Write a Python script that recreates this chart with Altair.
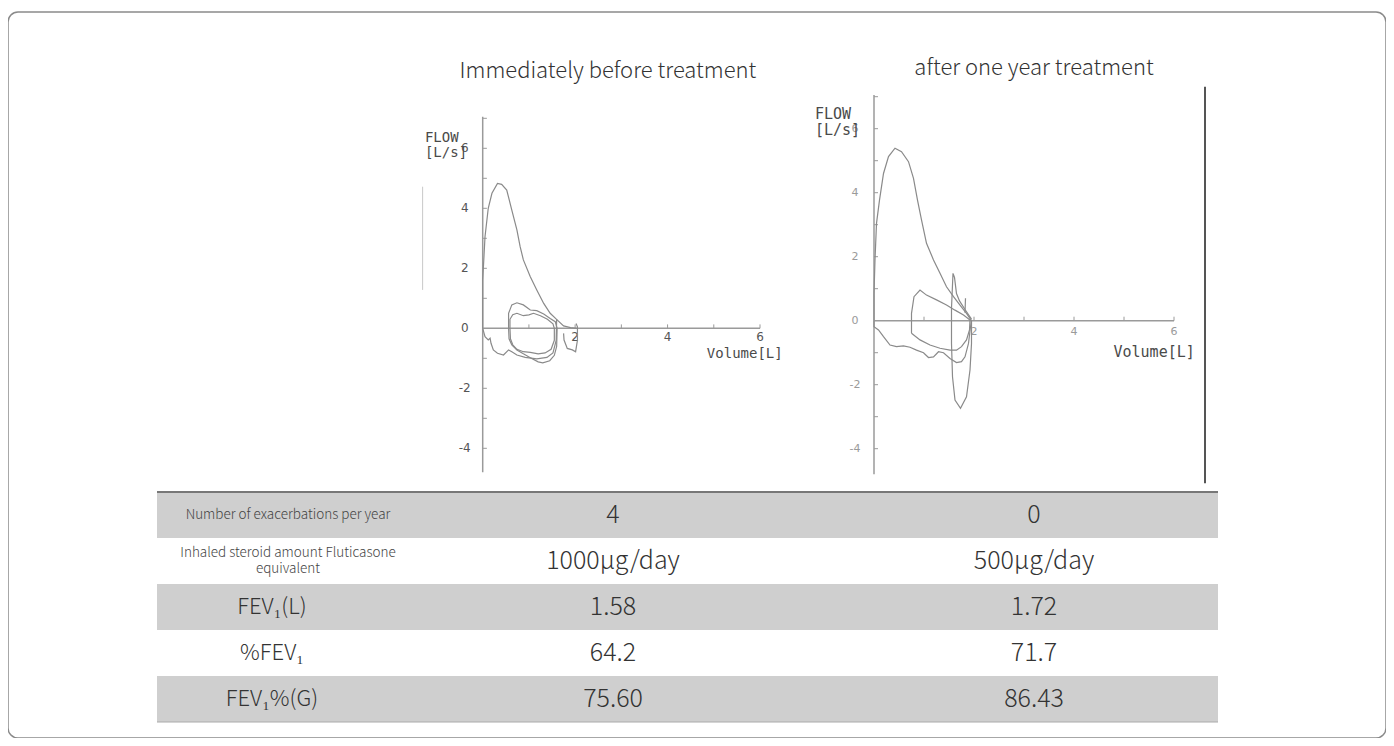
import altair as alt
import pandas as pd

# ---------------- data ----------------
titles = ["Immediately before treatment", "after one year treatment"]

# Before treatment (left panel) - flow (L/s) vs volume (L)
before_exp_vol = [0.0, 0.0, 0.05, 0.12, 0.2, 0.32, 0.41, 0.52, 0.63, 0.74, 0.81, 0.88, 1.03, 1.17, 1.32, 1.46, 1.61, 1.75, 1.9, 2.04]
before_exp_flow = [0.0, 1.6, 3.05, 4.0, 4.5, 4.83, 4.8, 4.61, 3.94, 3.28, 2.72, 2.28, 1.72, 1.28, 0.83, 0.5, 0.28, 0.08, 0.02, 0.0]
before_loop1_vol = [0.56, 0.56, 0.63, 0.74, 0.88, 1.03, 1.17, 1.32, 1.46, 1.57, 1.61, 1.6, 1.55, 1.45, 1.3, 1.2, 1.03, 0.88, 0.74, 0.63, 0.57, 0.56]
before_loop1_flow = [0.0, 0.5, 0.78, 0.85, 0.78, 0.61, 0.59, 0.48, 0.33, 0.22, 0.0, -0.6, -0.9, -1.08, -1.15, -1.12, -0.98, -0.85, -0.72, -0.55, -0.35, 0.0]
before_loop2_vol = [0.59, 0.59, 0.65, 0.74, 0.88, 1.0, 1.1, 1.25, 1.4, 1.52, 1.55, 1.55, 1.48, 1.35, 1.2, 1.03, 0.88, 0.74, 0.65, 0.6, 0.59]
before_loop2_flow = [0.0, 0.3, 0.45, 0.5, 0.42, 0.45, 0.5, 0.42, 0.3, 0.15, 0.0, -0.4, -0.7, -0.82, -0.85, -0.8, -0.78, -0.7, -0.55, -0.35, 0.0]
before_insp_vol = [0.0, 0.05, 0.12, 0.16, 0.18, 0.23, 0.32, 0.45, 0.56, 0.63, 0.74, 0.92, 1.17, 1.39, 1.52, 1.59, 1.6]
before_insp_flow = [0.0, -0.28, -0.39, -0.33, -0.5, -0.72, -0.83, -0.89, -0.72, -0.78, -0.89, -0.97, -1.02, -0.97, -0.82, -0.4, 0.3]
before_tail_vol = [1.75, 1.76, 1.83, 1.94, 2.01, 2.05, 2.05, 2.02]
before_tail_flow = [-0.17, -0.39, -0.67, -0.72, -0.78, -0.4, 0.05, 0.16]

# After one year treatment (right panel)
after_exp_vol = [0.0, 0.0, 0.02, 0.05, 0.11, 0.19, 0.29, 0.42, 0.55, 0.69, 0.79, 0.87, 0.95, 1.05, 1.19, 1.32, 1.45, 1.59, 1.72, 1.85, 1.95]
after_exp_flow = [0.0, 0.85, 1.9, 3.04, 3.77, 4.6, 5.13, 5.39, 5.28, 4.97, 4.45, 3.77, 3.15, 2.42, 1.9, 1.48, 1.06, 0.75, 0.49, 0.23, 0.0]
after_loop_vol = [0.75, 0.75, 0.8, 0.92, 1.05, 1.25, 1.45, 1.62, 1.79, 1.92, 1.91, 1.85, 1.75, 1.65, 1.52, 1.32, 1.12, 0.92, 0.75]
after_loop_flow = [-0.39, 0.23, 0.75, 0.96, 0.8, 0.65, 0.49, 0.33, 0.18, 0.02, -0.29, -0.6, -0.81, -0.92, -0.92, -0.86, -0.76, -0.6, -0.39]
after_insp_vol = [0.0, 0.0, 0.09, 0.19, 0.32, 0.45, 0.59, 0.72, 0.85, 0.99, 1.09, 1.19, 1.29, 1.39, 1.52, 1.65, 1.75, 1.82, 1.89, 1.93, 1.95]
after_insp_flow = [0.0, -0.19, -0.29, -0.5, -0.76, -0.81, -0.79, -0.83, -0.92, -1.0, -1.15, -1.13, -0.97, -1.0, -1.18, -1.31, -1.28, -1.13, -0.71, -0.19, 0.0]
after_spike_vol = [1.95, 1.95, 1.92, 1.85, 1.73, 1.62, 1.57, 1.55, 1.55, 1.58, 1.61, 1.65, 1.71, 1.82, 1.95]
after_spike_flow = [0.0, -0.71, -1.54, -2.38, -2.74, -2.48, -1.75, -0.71, 0.4, 1.48, 1.35, 0.85, 0.62, 0.35, 0.05]
after_blip_vol = [1.83, 1.82]
after_blip_flow = [0.7, 0.25]

y_tick_values = [-4, -3, -2, -1, 1, 2, 3, 4, 5, 6, 7]
y_tick_labels = [-4, -2, 0, 2, 4, 6]
x_tick_values = [1, 2, 3, 4, 5, 6]
x_tick_labels = [2, 4, 6]
axis_flow_range = [-4.8, 7.05]
axis_vol_range = [0, 6]

table_labels = ["Number of exacerbations per year",
                "Inhaled steroid amount Fluticasone\nequivalent",
                "FEV\u2081(L)", "%FEV\u2081", "FEV\u2081%(G)"]
before_values = ["4", "1000\u03bcg/day", "1.58", "64.2", "75.60"]
after_values = ["0", "500\u03bcg/day", "1.72", "71.7", "86.43"]

# ---------------- layout / style ----------------
W, H = 1378, 726
CURVE = "#8a8a8a"
AXIS = "#9a9a9a"
MONO = "DejaVu Sans Mono"
SANS = "Noto Sans CJK JP"


def curve_frame(parts):
    frames = []
    for name, (v, f) in parts.items():
        frames.append(pd.DataFrame({"vol": v, "flow": f, "curve": name, "i": list(range(len(v)))}))
    return pd.concat(frames, ignore_index=True)


def panel(df, x_px, y_px, tick_x, tick_y, lab_color, lab_size, ylab_dx, xlab_dy,
          title, title_at, flow_at, vol_at, mono_size, artifact):
    xs = alt.Scale(domain=[0, 6], range=x_px, nice=False, zero=False)
    ys = alt.Scale(domain=[-5, 7], range=y_px, nice=False, zero=False)

    def X(f):
        return alt.X(f, type="quantitative", scale=xs, axis=None)

    def Y(f):
        return alt.Y(f, type="quantitative", scale=ys, axis=None)

    curves = alt.Chart(df).mark_line(color=CURVE, strokeWidth=1.2).encode(
        x=X("vol"), y=Y("flow"), detail="curve:N", order="i:Q")

    yaxis = alt.Chart(pd.DataFrame({"x": [0], "y0": [axis_flow_range[0]], "y1": [axis_flow_range[1]]})).mark_rule(
        color=AXIS, strokeWidth=1.5).encode(x=X("x"), y=Y("y0"), y2="y1:Q")
    xaxis = alt.Chart(pd.DataFrame({"x0": [axis_vol_range[0]], "x1": [axis_vol_range[1]], "y": [0]})).mark_rule(
        color=AXIS, strokeWidth=1.5).encode(x=X("x0"), x2="x1:Q", y=Y("y"))

    yticks = alt.Chart(pd.DataFrame({"t": y_tick_values})).transform_calculate(
        a="0", b=str(tick_x)).mark_rule(color=AXIS, strokeWidth=1).encode(
        x=X("a"), x2="b:Q", y=Y("t"))
    xticks = alt.Chart(pd.DataFrame({"t": x_tick_values})).transform_calculate(
        a="0", b=str(tick_y)).mark_rule(color=AXIS, strokeWidth=1).encode(
        x=X("t"), y=Y("a"), y2="b:Q")

    ylabs = alt.Chart(pd.DataFrame({"t": y_tick_labels, "s": [str(v) for v in y_tick_labels]})).transform_calculate(
        a="0").mark_text(align="center", baseline="middle", dx=ylab_dx, fontSize=lab_size,
                          color=lab_color, font="DejaVu Sans").encode(x=X("a"), y=Y("t"), text="s:N")
    xlabs = alt.Chart(pd.DataFrame({"t": x_tick_labels, "s": [str(v) for v in x_tick_labels]})).transform_calculate(
        a="0").mark_text(align="center", baseline="middle", dy=xlab_dy, fontSize=lab_size,
                          color=lab_color, font="DejaVu Sans").encode(x=X("t"), y=Y("a"), text="s:N")

    ttl = alt.Chart(pd.DataFrame({"x": [title_at[0]], "y": [title_at[1]], "s": [title]})).mark_text(
        align="center", baseline="alphabetic", fontSize=22, fontWeight=300, color="#333333", font=SANS).encode(
        x=X("x"), y=Y("y"), text="s:N")

    ann = pd.DataFrame({"x": [flow_at[0], flow_at[0], vol_at[0]],
                        "y": [flow_at[1], flow_at[2], vol_at[1]],
                        "s": ["FLOW", "[L/s]", "Volume[L]"]})
    annot = alt.Chart(ann).mark_text(align="left", baseline="alphabetic", fontSize=mono_size,
                                     color="#4a4a4a", font=MONO).encode(x=X("x"), y=Y("y"), text="s:N")

    art = alt.Chart(pd.DataFrame({"x": [artifact[0]], "y0": [artifact[1]], "y1": [artifact[2]]})).mark_rule(
        color=artifact[3], strokeWidth=artifact[4]).encode(x=X("x"), y=Y("y0"), y2="y1:Q")

    return alt.layer(art, yaxis, xaxis, yticks, xticks, ylabs, xlabs, curves, ttl, annot)


left_df = curve_frame({
    "exp": (before_exp_vol, before_exp_flow),
    "loop1": (before_loop1_vol, before_loop1_flow),
    "loop2": (before_loop2_vol, before_loop2_flow),
    "insp": (before_insp_vol, before_insp_flow),
    "tail": (before_tail_vol, before_tail_flow),
})
right_df = curve_frame({
    "exp": (after_exp_vol, after_exp_flow),
    "loop": (after_loop_vol, after_loop_flow),
    "insp": (after_insp_vol, after_insp_flow),
    "spike": (after_spike_vol, after_spike_flow),
    "blip": (after_blip_vol, after_blip_flow),
})

left = panel(left_df, [474.7, 752.0], [466.3, 106.3], 0.09, 0.13, "#555555", 12, -18, 9,
             titles[0], (2.71, 8.33), (-1.25, 6.22, 5.72), (4.85, -1.0), 14,
             (-1.3, 1.28, 4.72, "#c8c8c8", 1))
right = panel(right_df, [866.0, 1166.0], [468.7, 84.7], 0.08, 0.125, "#9a9a9a", 11, -19, 11,
              titles[1], (3.2, 7.68), (-1.18, 6.29, 5.8), (4.79, -1.13), 15,
              (6.62, -5.08, 7.31, "#555555", 2))

# ---------------- table ----------------
n_rows = len(table_labels)
ty = alt.Scale(domain=[0, n_rows], range=[480, 710], nice=False, zero=False)
tx_bg = alt.Scale(domain=[0, 1], range=[149, 1210], nice=False, zero=False)
tx_txt = alt.Scale(domain=[0, 1, 2], range=[270, 605, 1026], nice=False, zero=False)

rows_df = pd.DataFrame({"r": list(range(n_rows))})
bg = alt.Chart(rows_df).transform_filter("datum.r % 2 == 0").transform_calculate(
    r1="datum.r + 1", a="0", b="1").mark_rect(color="#cfcfcf").encode(
    x=alt.X("a:Q", scale=tx_bg, axis=None), x2="b:Q",
    y=alt.Y("r:Q", scale=ty, axis=None), y2="r1:Q")
top_rule = alt.Chart(pd.DataFrame({"y": [0]})).transform_calculate(a="0", b="1").mark_rule(
    color="#777777", strokeWidth=2).encode(
    x=alt.X("a:Q", scale=tx_bg, axis=None), x2="b:Q", y=alt.Y("y:Q", scale=ty, axis=None))
bot_rule = alt.Chart(pd.DataFrame({"y": [n_rows]})).transform_calculate(a="0", b="1").mark_rule(
    color="#aaaaaa", strokeWidth=1).encode(
    x=alt.X("a:Q", scale=tx_bg, axis=None), x2="b:Q", y=alt.Y("y:Q", scale=ty, axis=None))
table_bg = alt.layer(bg, top_rule, bot_rule)

# cells: multi-line labels become one text item per line, stacked in row units
LINE_STEP = 16 / 46.0
cells = []
for r in range(n_rows):
    lines = table_labels[r].split("\n")
    n = len(lines)
    for k, ln in enumerate(lines):
        cells.append({"r": r, "c": 0, "s": ln, "ym": r + 0.5 + (k - (n - 1) / 2) * LINE_STEP})
    cells.append({"r": r, "c": 1, "s": before_values[r], "ym": r + 0.5})
    cells.append({"r": r, "c": 2, "s": after_values[r], "ym": r + 0.5})
cells_df = pd.DataFrame(cells)

base_txt = alt.Chart(cells_df)
enc = dict(x=alt.X("c:Q", scale=tx_txt, axis=None), y=alt.Y("ym:Q", scale=ty, axis=None), text="s:N")
small_lab = base_txt.transform_filter("datum.c == 0 && datum.r < 2").mark_text(
    align="center", baseline="middle", fontSize=13.5, fontWeight=300, color="#444444", font=SANS,
    dx=10).encode(**enc)
big_lab = base_txt.transform_filter("datum.c == 0 && datum.r >= 2").mark_text(
    align="center", baseline="middle", fontSize=22, fontWeight=300, color="#333333", font=SANS,
    dx=-6).encode(**enc)
values_txt = base_txt.transform_filter("datum.c > 0").mark_text(
    align="center", baseline="middle", fontSize=25, fontWeight=300, color="#333333", font=SANS).encode(**enc)
table_txt = alt.layer(small_lab, big_lab, values_txt)

chart = alt.layer(left, right, table_bg, table_txt).resolve_scale(
    x="independent", y="independent"
).properties(
    width=W, height=H,
    padding={"left": 0, "top": 4, "right": 0, "bottom": 0},
    autosize=alt.AutoSizeParams(type="none"),
).configure_view(stroke="#8a8a8a", strokeWidth=1.5, cornerRadius=10)

chart.save("out.html", embed_options={"renderer": "svg", "actions": False})
